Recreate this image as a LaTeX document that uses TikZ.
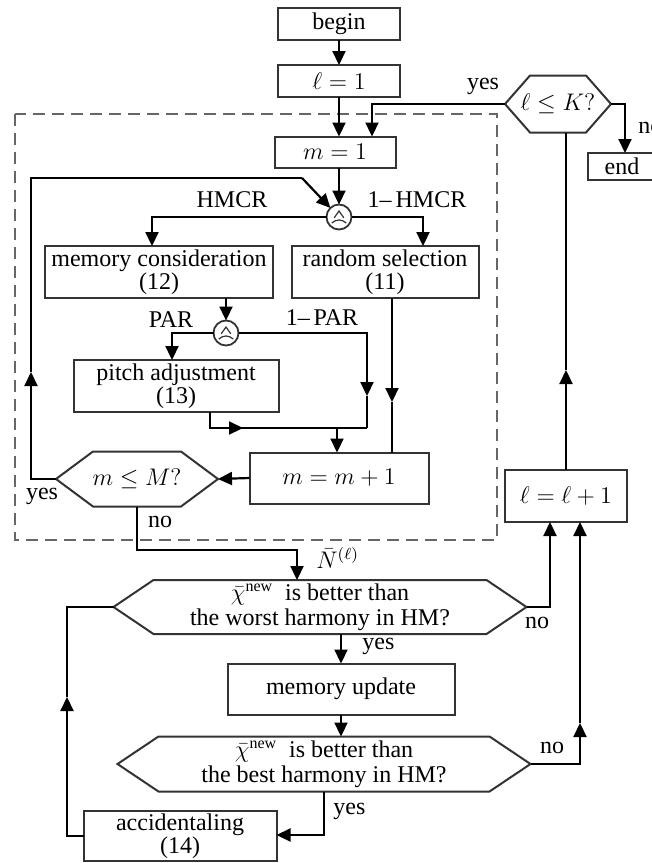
\documentclass[tikz,border=0pt]{standalone}
\usepackage{fontspec}
\setmainfont{Liberation Serif}
\usetikzlibrary{arrows.meta}

% hexagonal outline round a plain node: #1 node name, #2 slant of the side points
\newcommand{\hexframe}[2]{%
  \draw[box line] (#1.west) -- ([xshift=#2]#1.north west) -- ([xshift=-#2]#1.north east)
    -- (#1.east) -- ([xshift=-#2]#1.south east) -- ([xshift=#2]#1.south west) -- cycle;}

\tikzset{
  box line/.style={draw=black!80, line width=1pt},
  box/.style={box line, rectangle, align=center, inner sep=1pt, outer sep=0pt},
  hexnode/.style={rectangle, align=center, inner sep=1pt, outer sep=0pt, font=\fontsize{12}{12.5}\selectfont},
  lbl/.style={inner sep=1pt},
  wire/.style={line width=1.1pt},
  flow/.style={wire, -{Triangle[length=7pt,width=6.5pt]}},
  frame/.style={draw=black!60, line width=1.2pt, dash pattern=on 6pt off 3.5pt},
  mixer/.style={circle, draw=black!80, line width=.9pt, minimum size=12.5pt, inner sep=0pt, outer sep=0pt,
    path picture={
      \draw[shift={(path picture bounding box.center)}, line width=.6pt]
        (-2.4pt,-.4pt) -- (0pt,3pt) -- (2.4pt,-.4pt)
        (-3.6pt,-3pt) .. controls (-1.5pt,-1pt) and (1.5pt,-1pt) .. (3.6pt,-3pt);}}
}

\begin{document}
\begin{tikzpicture}[x=0.5pt, y=-0.5pt, font=\fontsize{12}{11.5}\selectfont]
	\useasboundingbox (0,0) rectangle (652,863);

	% outer loop start
	\node[box, minimum width=61pt, minimum height=16pt] (begin) at (339, 24) {begin};
	\node[box, minimum width=61pt, minimum height=16pt] (l1) at (339, 81) {$\ell = 1$};
	\node[hexnode, minimum width=53pt, minimum height=28.5pt] (lK) at (558, 104) {$\ell \leq K?$};
	\hexframe{lK}{12.5pt}
	\node[box, minimum width=34pt, minimum height=13.5pt] (endb) at (622, 166.5) {end};

	% improvisation block
	\draw[frame] (15, 114) rectangle (497, 540);
	\node[box, minimum width=60.5pt, minimum height=15.5pt] (m1) at (335, 152) {$m = 1$};
	\node[mixer] (c1) at (339, 217) {};
	\node[box, minimum width=114pt, minimum height=26pt] (mc) at (159, 272) {memory consideration\\(12)};
	\node[box, minimum width=93.5pt, minimum height=26pt] (rs) at (385, 272) {random selection\\(11)};
	\node[mixer] (c2) at (226, 333) {};
	\node[box, minimum width=102.5pt, minimum height=26pt] (pa) at (176, 386) {pitch adjustment\\(13)};
	\node[box, minimum width=89.5pt, minimum height=25.5pt] (mm) at (339, 478) {$m = m + 1$};
	\node[hexnode, minimum width=81pt, minimum height=27.5pt] (mM) at (137, 479) {$m \leq M?$};
	\hexframe{mM}{18.5pt}

	% update part
	\node[box, minimum width=61pt, minimum height=26pt] (lp) at (566, 496) {$\ell = \ell + 1$};
	\node[hexnode, minimum width=206.5pt, minimum height=27pt] (h1) at (320, 607)
		{$\bar{\chi}^{\mathrm{new}}$\ \ is better than\\the worst harmony in HM?};
	\hexframe{h1}{20pt}
	\node[box, minimum width=113.5pt, minimum height=25.5pt] (mu) at (341, 689) {memory update};
	\node[hexnode, minimum width=206.5pt, minimum height=27.5pt] (h2) at (324, 764)
		{$\bar{\chi}^{\mathrm{new}}$\ \ is better than\\the best harmony in HM?};
	\hexframe{h2}{20.5pt}
	\node[box, minimum width=96.5pt, minimum height=25pt] (acc) at (180, 836) {accidentaling\\(14)};

	% labels
	\node[lbl] (yes1) at (483, 86) {yes};
	\node[lbl, anchor=west] (no1) at (636, 128) {no};
	\node[lbl] (hmcr) at (232, 200) {HMCR};
	\node[lbl] (hmcr1) at (417, 200) {1--\,HMCR};
	\node[lbl] (par) at (171, 320) {PAR};
	\node[lbl] (par1) at (322, 318) {1--\,PAR};
	\node[lbl] (yes2) at (42, 496) {yes};
	\node[lbl] (no2) at (160, 522) {no};
	\node[lbl, anchor=west] (nbar) at (314, 558) {$\bar{N}^{(\ell)}$};
	\node[lbl] (no3) at (537, 623) {no};
	\node[lbl, anchor=west] (yes3) at (360, 646) {yes};
	\node[lbl] (no4) at (552, 748) {no};
	\node[lbl, anchor=west] (yes4) at (331, 811) {yes};

	% turning points
	\coordinate (yk) at (372, 104);
	\coordinate (nk) at (625, 104);
	\coordinate (up1) at (566, 370);
	\coordinate (hl) at (152, 217);
	\coordinate (hr) at (423, 217);
	\coordinate (pl) at (172, 333);
	\coordinate (pr) at (367, 333);
	\coordinate (pra) at (367, 396);
	\coordinate (jn) at (367, 428);
	\coordinate (pb) at (210, 428);
	\coordinate (pba) at (243, 428);
	\coordinate (jd) at (337, 428);
	\coordinate (rd) at (392, 402);
	\coordinate (ly) at (31, 479);
	\coordinate (lya) at (31, 372);
	\coordinate (lt) at (31, 178);
	\coordinate (lc) at (302, 178);
	\coordinate (nb) at (137, 550);
	\coordinate (nr) at (297, 550);
	\coordinate (hn) at (550, 607);
	\coordinate (hm) at (580, 764);
	\coordinate (hma) at (580, 723);
	\coordinate (hb) at (324, 835);
	\coordinate (al) at (67, 836);
	\coordinate (au) at (67, 697);
	\coordinate (at) at (67, 607);

	% connectors
	\draw[flow] (begin) -- (l1);
	\draw[flow] (l1.south) -- (l1.south |- m1.north);
	\draw[flow] (lK.west) -- (yk) -- (yk |- m1.north);
	\draw[flow] (lK.east) -- (nk) -- (nk |- endb.north);
	\draw[flow] (lp.north) -- (up1);
	\draw[wire] (up1) -- (up1 |- lK.south);

	\draw[flow] (c1 |- m1.south) -- (c1);
	\draw[flow] (c1.west) -- (hl) -- (hl |- mc.north);
	\draw[flow] (c1.east) -- (hr) -- (hr |- rs.north);
	\draw[flow] (c2 |- mc.south) -- (c2);
	\draw[flow] (c2.west) -- (pl) -- (pl |- pa.north);
	\draw[flow] (c2.east) -- (pr) -- (pra);
	\draw[wire] (pra) -- (jn);
	\draw[wire] (pa.south -| pb) -- (pb) -- (jn);
	\draw[flow] (pb) -- (pba);
	\draw[flow] (jd) -- (jd |- mm.north);
	\draw[flow] (rs.south -| rd) -- (rd);
	\draw[wire] (rd) -- (rd |- mm.north);
	\draw[flow] (mm.west) -- (mM.east);
	\draw[flow] (mM.west) -- (ly) -- (lya);
	\draw[wire] (lya) -- (lt) -- (lc);
	\draw[flow] (lc) -- (c1);
	\draw[flow] (mM.south) -- (nb) -- (nr) -- (nr |- h1.north);

	\draw[flow] (h1.east) -- (hn) -- (hn |- lp.south);
	\draw[flow] (mu.north |- h1.south) -- (mu.north);
	\draw[flow] (mu.south) -- (mu.south |- h2.north);
	\draw[flow] (h2.east) -- (hm) -- (hma);
	\draw[flow] (hma) -- (hma |- lp.south);
	\draw[flow] (h2.south) -- (hb) -- (acc.east |- hb);
	\draw[flow] (acc.west) -- (al) -- (au);
	\draw[wire] (au) -- (at) -- (h1.west);
\end{tikzpicture}
\end{document}
